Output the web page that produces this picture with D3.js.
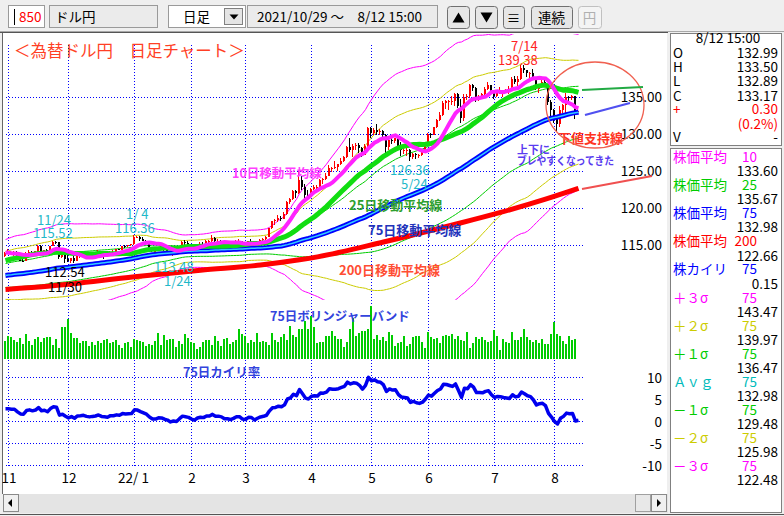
<!DOCTYPE html>
<html><head><meta charset="utf-8">
<script src="https://cdn.jsdelivr.net/npm/d3@7"></script>
<style>
body{margin:0;background:#f0f0f0;overflow:hidden}
svg{display:block;font-family:"Noto Sans CJK JP","Noto Sans",sans-serif}
</style></head><body>
<svg id="c" width="784" height="516"></svg>
<script>
// ---------- categories ----------
const holidays = ["2021-11-03","2021-11-23","2021-12-31","2022-01-03","2022-01-10","2022-02-11","2022-02-23","2022-03-21","2022-04-29","2022-05-03","2022-05-04","2022-05-05","2022-07-18","2022-08-11"];
const firstDay = "2021-10-29", lastDay = "2022-08-12";
const monthLabels = ["11","12","22/ 1","2","3","4","5","6","7","8"];
const priceTicks = [115,120,125,130,135];
const kairiTicks = [10,5,0,-5,-10];

// ---------- closes before the visible window (for the moving averages) ----------
const preCloses = [110.35,110.62,109.98,109.83,110.07,109.45,109.85,110.30,110.38,109.78,109.90,109.47,109.72,
109.30,109.05,109.48,109.77,110.25,110.58,110.42,110.40,109.60,109.25,109.60,109.77,109.78,109.79,109.69,109.70,110.07,110.07,109.84,109.91,110.02,
110.02,109.93,109.71,109.82,110.27,110.25,109.72,109.88,110.01,109.70,109.38,109.72,109.97,109.23,109.73,110.73,110.99,111.50,111.98,111.29,
111.05,110.93,111.45,111.42,111.63,112.22,113.27,113.58,113.26,113.69,114.22,114.35,114.38,114.32,114.00,113.48,113.72,114.14,113.84,113.56];

// ---------- daily bars (open = previous close) ----------
const closes = [113.95,114.01,113.96,114.01,113.40,112.90,112.89,113.86,114.08,113.88,
114.14,114.84,114.10,114.28,113.98,114.85,115.40,115.36,113.39,113.64,
113.17,112.80,113.18,112.80,113.45,113.54,113.71,113.49,113.40,113.58,
113.73,114.05,113.73,113.67,113.61,114.08,114.12,114.40,114.37,114.85,
114.81,114.96,115.07,116.10,116.13,115.82,115.56,115.30,114.63,114.21,
114.22,114.60,114.62,114.31,114.12,113.68,113.95,113.87,114.64,115.35,
115.24,115.10,114.68,114.40,114.98,115.20,115.10,115.55,115.55,116.00,
115.56,115.60,115.43,114.93,114.96,114.77,115.09,115.54,115.57,114.99,
114.90,115.48,115.47,114.83,115.30,115.66,115.84,116.14,117.33,118.20,
118.32,118.70,118.58,119.16,120.80,121.20,122.30,122.05,123.80,122.85,
121.80,121.70,122.53,122.80,122.85,123.80,123.90,124.30,125.40,125.40,
125.60,125.90,126.40,126.90,128.20,127.90,128.40,128.50,128.10,127.20,
128.40,130.80,130.10,130.60,130.30,130.40,129.90,128.30,129.20,129.10,
129.40,128.30,127.80,127.90,127.90,126.85,127.30,127.10,127.10,127.60,
128.70,130.00,129.90,130.90,131.90,132.60,134.20,134.40,134.40,134.40,
135.40,133.80,132.10,135.00,135.10,136.60,136.20,134.90,135.20,135.40,
136.10,136.60,135.70,135.20,135.70,135.90,135.90,136.00,136.10,137.40,
137.00,137.40,138.90,138.60,138.20,138.20,137.40,136.10,136.70,137.00,
136.50,134.30,133.30,132.10,131.40,133.20,133.90,135.00,134.90,135.10,
132.87,133.17];
const highs = [114.05,114.44,114.13,114.18,114.22,113.55,113.22,114.01,114.29,114.18,
114.22,114.97,114.96,114.35,114.48,114.91,115.52,115.48,115.37,113.96,
113.89,113.60,113.26,113.51,113.52,113.80,113.94,113.76,113.68,113.69,
113.81,114.26,114.20,113.85,113.77,114.14,114.33,114.49,114.50,114.91,
114.94,115.03,115.18,116.36,116.26,116.19,116.03,115.65,115.36,114.70,
114.45,114.70,115.07,114.90,114.50,114.20,114.08,114.10,114.75,115.49,
115.69,115.52,115.18,114.75,115.10,115.40,115.45,115.64,115.65,116.34,
116.05,115.80,115.70,115.45,115.18,115.10,115.20,115.70,115.76,115.60,
115.10,115.55,115.80,115.50,115.40,115.80,116.00,116.25,117.35,118.30,
118.45,119.12,118.95,119.40,121.00,121.40,122.40,122.42,125.10,124.30,
123.20,122.40,122.70,123.05,123.10,123.90,124.05,124.70,125.75,125.60,
126.30,126.00,126.70,127.00,128.40,129.40,128.60,128.80,128.80,128.30,
128.60,130.90,130.95,130.80,131.35,130.70,130.50,130.00,129.60,129.70,
129.50,129.60,128.90,128.20,128.40,128.00,127.50,127.50,127.30,127.80,
128.90,130.20,130.10,130.95,132.00,133.00,134.45,134.55,134.60,135.20,
135.60,135.55,134.70,135.40,135.40,136.70,136.71,136.30,135.30,135.50,
136.40,136.99,136.60,135.70,135.80,136.40,136.00,136.10,136.50,137.75,
137.90,137.90,139.38,139.30,138.60,138.40,138.80,137.60,136.80,137.40,
137.40,136.50,134.60,133.40,132.50,133.80,134.10,135.50,135.20,135.30,
135.20,133.50];
const lows = [113.38,113.87,113.62,113.56,113.27,112.86,112.73,112.86,113.83,113.72,
113.80,114.07,113.92,113.59,113.75,113.92,114.85,115.13,113.06,113.22,
112.54,112.72,112.62,112.53,112.79,113.30,113.35,113.31,113.22,113.34,
113.45,113.55,113.60,113.14,113.32,113.58,113.99,114.05,114.28,114.30,
114.66,114.73,114.84,115.00,115.89,115.60,115.48,115.05,114.48,114.00,
113.95,114.15,114.40,114.20,113.95,113.65,113.48,113.60,113.80,114.60,
115.05,114.95,114.60,114.15,114.30,114.60,114.95,115.02,115.30,115.35,
114.95,115.40,115.20,114.80,114.78,114.55,114.50,114.41,115.30,114.90,
114.60,114.85,115.30,114.65,114.80,115.10,115.50,115.70,116.10,117.20,
117.70,118.10,118.20,118.50,119.10,120.60,121.10,121.40,121.90,122.40,
121.20,121.30,121.60,122.40,122.40,122.80,123.30,123.80,124.30,124.90,
125.30,125.00,125.80,126.20,126.80,127.60,126.90,127.80,127.50,126.95,
127.10,128.30,129.50,129.80,129.90,129.80,129.20,127.50,127.90,128.70,
128.80,128.00,127.00,127.30,127.00,126.36,126.60,126.60,126.80,127.00,
127.50,128.60,129.50,129.80,130.80,131.80,132.50,133.40,133.30,133.90,
133.80,133.50,131.50,131.80,134.60,134.90,135.80,134.30,134.50,134.80,
135.10,135.90,135.50,134.70,135.00,135.40,135.00,135.60,135.40,136.00,
136.70,136.50,137.30,138.30,137.70,137.60,137.30,135.90,135.60,136.20,
136.30,133.90,132.50,131.50,130.40,130.90,132.80,132.50,134.40,134.60,
132.00,132.89];
const lastOpen = 132.99;
const volumes = [18,23,22,19,17,21,15,25,18,14,20,22,17,21,22,22,14,20,11,32,
32,40,26,21,21,16,18,18,13,17,14,18,16,19,20,16,17,19,14,11,
16,17,12,20,19,18,17,13,15,14,18,26,14,24,19,20,20,12,18,15,
25,21,17,16,10,12,17,19,19,14,23,18,13,20,21,15,17,19,30,25,
23,16,19,17,26,17,18,17,14,26,19,17,22,25,19,33,24,22,30,30,
38,30,43,32,16,17,17,23,23,28,23,20,20,12,17,30,41,23,26,28,
28,30,53,20,24,19,22,18,27,24,13,16,17,23,13,15,22,23,23,17,
11,27,22,20,21,16,23,24,23,25,20,23,19,18,27,11,16,22,20,22,
19,17,18,29,23,9,20,17,16,27,19,19,22,30,22,19,17,19,16,20,
15,15,25,37,25,23,18,15,23,19,20,0];
// 200-day average (index, value)
const ma200Pts = [[0,109.0],[15,109.45],[43,110.7],[65,111.6],[85,112.3],[98,113.0],[104,113.4],[126,115.4],[149,117.7],[165,119.4],[180,121.2],[191,122.66]];

// ---------- side panel texts ----------
const barTime = "8/12 15:00";
const ohlcLabels = ["O","H","L","C"];
const ohlcValues = ["132.99","133.50","132.89","133.17"];
const changeText = ["0.30","(0.2%)"];
const indLabels = ["株価平均","株価平均","株価平均","株価平均","株カイリ","＋３σ","＋２σ","＋１σ","Ａｖｇ","－１σ","－２σ","－３σ"];
const indPeriods = ["10","25","75","200","75","75","75","75","75","75","75","75"];
const indValues = ["133.60","135.67","132.98","122.66","0.15","143.47","139.97","136.47","132.98","129.48","125.98","122.48"];
const indColors = ["#ff00ff","#00cc00","#0000ff","#ff0000","#0000ff","#ff00ff","#cccc00","#00cc00","#00bbbb","#00cc00","#cccc00","#ff00ff"];

// ---------- setup ----------
const svg = d3.select("#c");
const fmt = d3.timeFormat("%Y-%m-%d"), parse = d3.timeParse("%Y-%m-%d");
const dates = d3.timeDay.range(parse(firstDay), d3.timeDay.offset(parse(lastDay),1))
  .filter(d => d.getDay()!==0 && d.getDay()!==6 && !holidays.includes(fmt(d)));
const N = closes.length;
const monthStarts = [];
dates.forEach((d,i)=>{ if(i>0 && d.getMonth()!==dates[i-1].getMonth()) monthStarts.push(i); });

const x = d3.scaleLinear().domain([0,N-1]).range([5.5,5.5+3*(N-1)]);
const y = d3.scaleLinear().domain([115,135]).range([245,97]);
const yv = d3.scaleLinear().domain([0,60]).range([359,299]);
const yk = d3.scaleLinear().domain([-10,10]).range([465,377]);

const all = preCloses.concat(closes), off = preCloses.length;
const idx = d3.range(N);
const sma = (n,i)=>d3.mean(all.slice(i+off-n+1,i+off+1));
const sdp = (n,i)=>{const a=all.slice(i+off-n+1,i+off+1), m=d3.mean(a); return Math.sqrt(d3.mean(a,v=>(v-m)*(v-m)));};
const ma10 = idx.map(i=>sma(10,i)), ma25 = idx.map(i=>sma(25,i)), ma75 = idx.map(i=>sma(75,i));
const sd75 = idx.map(i=>sdp(75,i));
const kairi = idx.map(i=>(closes[i]-ma75[i])/ma75[i]*100);
const opens = idx.map(i=> i===N-1 ? lastOpen : (i===0 ? preCloses[off-1] : closes[i-1]));

function txt(g,s,xx,yy,o={}){
  const t=g.append("text").attr("x",xx).attr("y",yy).text(s)
   .attr("font-size",o.size||13.5).attr("fill",o.fill||"#000").attr("text-anchor",o.anchor||"start");
  if(o.bold) t.attr("font-weight","bold");
  if(o.len) t.attr("textLength",o.len).attr("lengthAdjust","spacingAndGlyphs");
  return t;
}

// ---------- window chrome ----------
svg.append("rect").attr("width",784).attr("height",516).attr("fill","#efefef");
const T = svg.append("g");
T.append("rect").attr("x",8.5).attr("y",5.5).attr("width",36).attr("height",22).attr("fill","#fff").attr("stroke","#9a9a9a");
T.append("line").attr("x1",14.5).attr("x2",14.5).attr("y1",9).attr("y2",25).attr("stroke","#000");
txt(T,"850",19,22,{fill:"#ff0000"});
T.append("rect").attr("x",49.5).attr("y",5.5).attr("width",108).attr("height",22).attr("fill","#ebebeb").attr("stroke","#9a9a9a");
txt(T,"ドル円",55,22);
T.append("rect").attr("x",168.5).attr("y",5.5).attr("width",77).attr("height",22).attr("fill","#fff").attr("stroke","#9a9a9a");
txt(T,"日足",183,22);
T.append("rect").attr("x",224.5).attr("y",8.5).attr("width",18).attr("height",16).attr("fill","#e4e4e4").attr("stroke","#808080");
T.append("path").attr("d","M229.5,14.5h9l-4.5,5z").attr("fill","#000");
T.append("rect").attr("x",247.5).attr("y",5.5).attr("width",190).attr("height",22).attr("fill","#ebebeb").attr("stroke","#9a9a9a");
txt(T,"2021/10/29 ～　8/12 15:00",257,22);
const btns=[[447,22],[475,22],[503,21],[531,41],[578,23]];
btns.forEach((b,k)=>{T.append("rect").attr("x",b[0]+0.5).attr("y",6.5).attr("width",b[1]).attr("height",22).attr("rx",3)
  .attr("fill",k===4?"#f4f4f4":"#e6e6e6").attr("stroke",k===4?"#c0c0c0":"#707070");});
T.append("path").attr("d","M452.5,22.5h12l-6,-10z").attr("fill","#000");
T.append("path").attr("d","M480.5,12.5h12l-6,10z").attr("fill","#000");
txt(T,"≡",513.5,23,{anchor:"middle"});
txt(T,"連続",551.5,23,{anchor:"middle"});
txt(T,"円",589.5,23,{anchor:"middle",fill:"#b0b0b0"});
svg.append("line").attr("x1",0).attr("x2",784).attr("y1",31.5).attr("y2",31.5).attr("stroke","#a8a8a8");
svg.append("line").attr("x1",0).attr("x2",668).attr("y1",32.5).attr("y2",32.5).attr("stroke","#555");

// main chart area
svg.append("rect").attr("x",3).attr("y",33).attr("width",664).attr("height",461).attr("fill","#fff");
svg.append("line").attr("x1",2.5).attr("x2",2.5).attr("y1",33).attr("y2",494).attr("stroke","#666");
// scrollbar
svg.append("rect").attr("x",3).attr("y",494).attr("width",665).attr("height",19).attr("fill","#e4e4e4");
svg.append("rect").attr("x",3.5).attr("y",494.5).attr("width",15).attr("height",17).attr("fill","#f0f0f0").attr("stroke","#8a8a8a");
svg.append("path").attr("d","M8,503l4,-4v8z").attr("fill","#000");
svg.append("rect").attr("x",635.5).attr("y",494.5).attr("width",15).attr("height",17).attr("fill","#e8e8e8").attr("stroke","#a0a0a0");
svg.append("rect").attr("x",651.5).attr("y",494.5).attr("width",15).attr("height",17).attr("fill","#f0f0f0").attr("stroke","#8a8a8a");
svg.append("path").attr("d","M661,503l-4,-4v8z").attr("fill","#000");
svg.append("line").attr("x1",0).attr("x2",784).attr("y1",514.5).attr("y2",514.5).attr("stroke","#555");

// right panel
svg.append("rect").attr("x",670.5).attr("y",33.5).attr("width",111).attr("height",112).attr("fill","#fff").attr("stroke","#808080");
svg.append("rect").attr("x",670.5).attr("y",148.5).attr("width",111).attr("height",364).attr("fill","#fff").attr("stroke","#808080");
const P = svg.append("g");
txt(P,barTime,728,43,{anchor:"middle"});
ohlcLabels.forEach((l,k)=>{txt(P,l,673,58+14.2*k); txt(P,ohlcValues[k],778,58+14.2*k,{anchor:"end"});});
txt(P,"+",673,114,{fill:"#ff0000"}); txt(P,changeText[0],778,114,{anchor:"end",fill:"#ff0000"});
txt(P,changeText[1],778,128.5,{anchor:"end",fill:"#ff0000"});
txt(P,"V",673,142); txt(P,"-",778,142,{anchor:"end"});
indLabels.forEach((l,k)=>{
  const by = 162+28.1*k;
  txt(P,l,673,by,{fill:indColors[k]});
  txt(P,indPeriods[k],757,by,{anchor:"end",fill:indColors[k]});
  txt(P,indValues[k],778,by+14.2,{anchor:"end"});
});

// ---------- grid ----------
const G = svg.append("g").attr("stroke","#0000ff").attr("stroke-dasharray","1,2").attr("shape-rendering","crispEdges");
priceTicks.forEach(p=>G.append("line").attr("x1",6).attr("x2",584).attr("y1",Math.round(y(p))+0.5).attr("y2",Math.round(y(p))+0.5));
kairiTicks.forEach(k=>G.append("line").attr("x1",6).attr("x2",584).attr("y1",Math.round(yk(k))+0.5).attr("y2",Math.round(yk(k))+0.5));
monthStarts.forEach(i=>G.append("line").attr("x1",Math.floor(x(i))+0.5).attr("x2",Math.floor(x(i))+0.5).attr("y1",45).attr("y2",466));

// axis labels
priceTicks.forEach(p=>txt(svg,p.toFixed(2),662,y(p)+5,{anchor:"end"}));
kairiTicks.forEach(k=>txt(svg,String(k),662,yk(k)+5.5,{anchor:"end"}));
monthStarts.forEach((i,k)=>txt(svg,monthLabels[k],x(i)+(k===2?-1:0.5),483,{anchor:"middle"}));

// ---------- price panel ----------
svg.append("clipPath").attr("id","cp").append("rect").attr("x",4).attr("y",34).attr("width",662).attr("height",266);
const C = svg.append("g").attr("clip-path","url(#cp)");
const band = k => d3.line().x(i=>x(i)).y(i=>y(ma75[i]+k*sd75[i]));
[[3,"#ff00ff"],[2,"#cccc00"],[1,"#00cc00"],[-1,"#00cc00"],[-2,"#cccc00"],[-3,"#ff00ff"]].forEach(([k,c])=>
  C.append("path").datum(idx).attr("d",band(k)).attr("fill","none").attr("stroke",c).attr("stroke-width",1));
// candles
const cg = C.append("g").attr("shape-rendering","crispEdges");
idx.forEach(i=>{
  const px=Math.floor(x(i)), up=closes[i]>=opens[i], col=up?"#ff0000":"#000";
  cg.append("rect").attr("x",px-1).attr("width",1).attr("y",y(highs[i])).attr("height",Math.max(1,y(lows[i])-y(highs[i]))).attr("fill",col);
  const top=y(Math.max(opens[i],closes[i])), bot=y(Math.min(opens[i],closes[i]));
  cg.append("rect").attr("x",px-1).attr("width",2).attr("y",top).attr("height",Math.max(1,bot-top)).attr("fill",col);
});
const lineOf = arr => d3.line().x(i=>x(i)).y(i=>y(arr[i]));
C.append("path").datum(ma200Pts).attr("d",d3.line().curve(d3.curveMonotoneX).x(d=>x(d[0])).y(d=>y(d[1])))
  .attr("fill","none").attr("stroke","#ff0000").attr("stroke-width",5);
C.append("path").datum(idx).attr("d",lineOf(ma75)).attr("fill","none").attr("stroke","#0000ff").attr("stroke-width",5);
C.append("path").datum(idx).attr("d",lineOf(ma75)).attr("fill","none").attr("stroke","#33ccff").attr("stroke-width",1.5);
C.append("path").datum(idx).attr("d",lineOf(ma25)).attr("fill","none").attr("stroke","#11dd11").attr("stroke-width",5);
C.append("path").datum(idx).attr("d",lineOf(ma10)).attr("fill","none").attr("stroke","#ff22ff").attr("stroke-width",4);

// volume
const vg = svg.append("g").attr("shape-rendering","crispEdges");
idx.forEach(i=>{ if(volumes[i]>0) vg.append("rect").attr("x",Math.floor(x(i))-1).attr("width",2)
  .attr("y",yv(volumes[i])).attr("height",yv(0)-yv(volumes[i])).attr("fill","#00cc00"); });

// kairi
svg.append("path").datum(idx).attr("d",d3.line().x(i=>x(i)).y(i=>yk(kairi[i])))
  .attr("fill","none").attr("stroke","#0000ee").attr("stroke-width",3.5).attr("stroke-linejoin","round");

// ---------- annotations ----------
const A = svg.append("g");
txt(A,"＜為替ドル円　日足チャート＞",14,57,{size:16.5,fill:"#ff3f25"});
const cyan="#1fb8c8";
txt(A,"11/24",37,225,{fill:cyan,size:13}); txt(A,"115.52",33,238,{fill:cyan,size:13});
txt(A,"1/ 4",126,219,{fill:cyan,size:13}); txt(A,"116.36",115,233,{fill:cyan,size:13});
txt(A,"112.54",45,277,{size:13}); txt(A,"11/30",48,292,{size:13});
txt(A,"113.48",154,272,{fill:cyan,size:13}); txt(A,"1/24",164,286,{fill:cyan,size:13});
txt(A,"126.36",390,175,{fill:cyan,size:13}); txt(A,"5/24",401,189,{fill:cyan,size:13});
txt(A,"7/14",511,51,{fill:"#ff2222",size:13}); txt(A,"139.38",498,65,{fill:"#ff2222",size:13});
txt(A,"10日移動平均線",232,178,{fill:"#ff40ff",size:12.5,bold:true});
txt(A,"25日移動平均線",349,210,{fill:"#2ea02e",size:13,bold:true});
txt(A,"75日移動平均線",368,235,{fill:"#2233bb",size:13,bold:true});
txt(A,"200日移動平均線",339,275,{fill:"#ff4d33",size:13,bold:true});
txt(A,"75日ボリンジャーバンド",270,321,{fill:"#3344dd",size:12.5,bold:true});
txt(A,"75日カイリ率",183,377,{fill:"#3344dd",size:12.5,bold:true});
txt(A,"下値支持線",558,143,{fill:"#ff3322",size:13,bold:true});
txt(A,"上下に",517,154,{fill:"#5a3cf0",size:11,bold:true});
txt(A,"ブレやすくなってきた",517,165,{fill:"#5a3cf0",size:11,bold:true,len:97});
A.append("ellipse").attr("cx",595).attr("cy",105).attr("rx",49).attr("ry",43).attr("fill","none").attr("stroke","#f06050").attr("stroke-width",1.3);
A.append("line").attr("x1",582).attr("y1",90).attr("x2",643).attr("y2",87).attr("stroke","#22aa44").attr("stroke-width",2.2);
A.append("line").attr("x1",585).attr("y1",115).attr("x2",630).attr("y2",103).attr("stroke","#5050f0").attr("stroke-width",2.2);
A.append("line").attr("x1",582).attr("y1",189).attr("x2",652).attr("y2",176).attr("stroke","#f05050").attr("stroke-width",2.2);
</script>
</body></html>
